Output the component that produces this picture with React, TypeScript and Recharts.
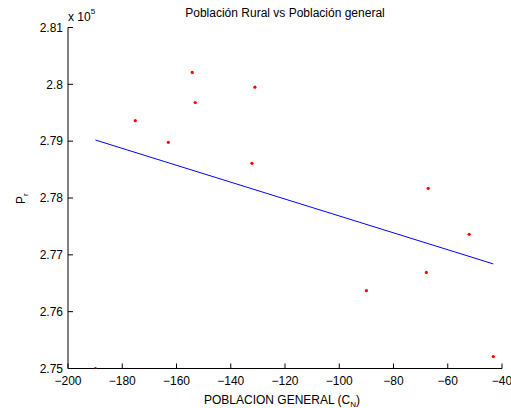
import { ComposedChart, Scatter, XAxis, YAxis } from 'recharts';

// poblacion general (C_N) vs poblacion rural (P_r, x 10^5)
const generalX = [-189.9, -175.2, -163.0, -154.2, -153.1, -132.2, -131.1, -90.0, -67.9, -67.2, -52.1, -43.2];
const ruralY = [2.75, 2.7936, 2.7898, 2.8021, 2.7968, 2.7861, 2.7995, 2.7637, 2.7669, 2.7817, 2.7736, 2.7521];

// least squares line endpoints
const fitX = [-189.9, -43.2];
const fitY = [2.7902, 2.7684];

const xTicks = [-200, -180, -160, -140, -120, -100, -80, -60, -40];
const yTicks = [2.75, 2.76, 2.77, 2.78, 2.79, 2.8, 2.81];

const points = generalX.map((x, i) => ({ x, y: ruralY[i] }));
const fitLine = fitX.map((x, i) => ({ x, y: fitY[i] }));

const W = 511;
const H = 408;
const font = '"Liberation Sans", Arial, Helvetica, sans-serif';
const tickStyle = { fill: '#000', fontSize: 12, fontFamily: font };

const fmtX = (v: number) => (v < 0 ? '\u2212' + Math.abs(v) : String(v));
const fmtY = (v: number) => String(Number(v.toFixed(2)));

const Dot = (props: any) => <circle cx={props.cx} cy={props.cy} r={1.6} fill="#ff0000" />;

export default function App() {
  return (
    <div style={{ position: 'absolute', left: 0, top: 0, width: W, height: H, background: '#fff', fontFamily: font }}>
      <ComposedChart width={W} height={H} margin={{ top: 27.5, right: 9, left: 0, bottom: 0 }}>
        <XAxis
          xAxisId="b"
          dataKey="x"
          type="number"
          domain={[-200, -40]}
          ticks={xTicks}
          interval={0}
          allowDataOverflow
          height={39.5}
          tickSize={-5}
          tickMargin={12.5}
          tickFormatter={fmtX}
          tick={tickStyle}
          axisLine={{ stroke: '#000' }}
          tickLine={{ stroke: '#000' }}
        />
        <XAxis
          xAxisId="t"
          orientation="top"
          dataKey="x"
          type="number"
          domain={[-200, -40]}
          ticks={xTicks}
          interval={0}
          allowDataOverflow
          height={0}
          tickSize={-5}
          tick={false}
          axisLine={{ stroke: '#000' }}
          tickLine={{ stroke: '#000' }}
        />
        <YAxis
          yAxisId="l"
          dataKey="y"
          type="number"
          domain={[2.75, 2.81]}
          ticks={yTicks}
          interval={0}
          allowDataOverflow
          width={68}
          tickSize={-5}
          tickMargin={10}
          tickFormatter={fmtY}
          tick={tickStyle}
          axisLine={{ stroke: '#000' }}
          tickLine={{ stroke: '#000' }}
        />
        <YAxis
          yAxisId="r"
          orientation="right"
          dataKey="y"
          type="number"
          domain={[2.75, 2.81]}
          ticks={yTicks}
          interval={0}
          allowDataOverflow
          width={0}
          tickSize={-5}
          tick={false}
          axisLine={{ stroke: '#000' }}
          tickLine={{ stroke: '#000' }}
        />
        <Scatter
          xAxisId="b"
          yAxisId="l"
          data={fitLine}
          line={{ stroke: '#0000ff', strokeWidth: 1 }}
          shape={() => <g />}
          isAnimationActive={false}
        />
        <Scatter xAxisId="b" yAxisId="l" data={points} shape={Dot} isAnimationActive={false} />
      </ComposedChart>
      <svg width={W} height={H} style={{ position: 'absolute', left: 0, top: 0, pointerEvents: 'none' }}>
        <text x={285} y={17} textAnchor="middle" fontSize={12} fill="#000">
          Población Rural vs Población general
        </text>
        <text x={68} y={20.5} fontSize={12} fill="#000">
          x 10<tspan fontSize={8} dy={-7}>5</tspan>
        </text>
        <text x={204} y={404} fontSize={12} fill="#000">
          POBLACION GENERAL (C<tspan fontSize={8} dy={3}>N</tspan>
          <tspan dy={-3}>)</tspan>
        </text>
        <text x={25} y={204} fontSize={12} fill="#000" transform="rotate(-90 25 204)">
          P<tspan fontSize={8} dy={3}>r</tspan>
        </text>
      </svg>
    </div>
  );
}
